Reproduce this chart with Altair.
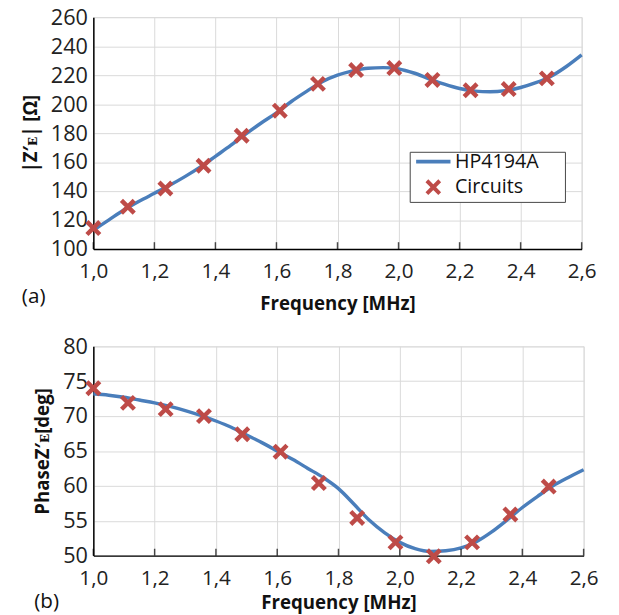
import altair as alt
import pandas as pd

FONT = "Open Sans"
BLUE = "#4a7ebb"
RED = "#be4b48"

# ---- data ----
series_names = ["HP4194A", "Circuits"]
x_ticks = [1.0, 1.2, 1.4, 1.6, 1.8, 2.0, 2.2, 2.4, 2.6]
z_ticks = [100, 120, 140, 160, 180, 200, 220, 240, 260]
ph_ticks = [50, 55, 60, 65, 70, 75, 80]

curve_freq = [1.00, 1.05, 1.10, 1.15, 1.20, 1.25, 1.30, 1.35, 1.40, 1.45, 1.50,
              1.55, 1.60, 1.65, 1.70, 1.75, 1.80, 1.85, 1.90, 1.95, 2.00, 2.05,
              2.10, 2.15, 2.20, 2.25, 2.30, 2.35, 2.40, 2.45, 2.50, 2.55, 2.60]
curve_z = [113.0, 120.0, 127.0, 133.0, 138.5, 144.0, 150.0, 156.5, 164.0, 171.5, 179.5,
           187.0, 194.0, 202.0, 209.0, 215.5, 220.0, 223.0, 224.8, 225.2, 224.3, 221.5,
           217.5, 213.8, 210.8, 209.0, 208.5, 209.3, 211.5, 214.8, 219.3, 226.0, 234.0]
curve_phase = [73.2, 73.0, 72.7, 72.3, 71.9, 71.4, 70.8, 70.1, 69.3, 68.4, 67.3,
               66.2, 65.0, 63.8, 62.5, 61.2, 59.6, 57.4, 55.1, 53.3, 51.9, 51.0,
               50.6, 50.7, 51.1, 52.0, 53.4, 55.1, 56.9, 58.5, 60.0, 61.2, 62.3]

pt_freq = [1.0, 1.113, 1.236, 1.361, 1.486, 1.611, 1.736, 1.861, 1.986, 2.111, 2.236, 2.361, 2.486]
pt_z = [114.5, 129.2, 141.8, 157.5, 178.2, 195.5, 214.0, 223.5, 224.9, 216.7, 209.6, 210.4, 217.8]
pt_phase = [74.0, 71.9, 71.0, 70.0, 67.4, 64.9, 60.4, 55.4, 51.9, 49.9, 51.9, 55.9, 59.9]

curve_df = pd.DataFrame({"f": curve_freq, "z": curve_z, "p": curve_phase, "s": series_names[0]})
pts_df = pd.DataFrame({"f": pt_freq, "z": pt_z, "p": pt_phase, "s": series_names[1]})
ticks_df = pd.DataFrame({"f": x_ticks})

SYM_SIZE = 225  # 15 px symbol box
LINE_PATH = "M-2.33,0L2.33,0"
X_PATH = "M-0.87,-0.87L0.87,0.87M0.87,-0.87L-0.87,0.87"

color_scale = alt.Scale(domain=series_names, range=[BLUE, RED])
shape_scale = alt.Scale(domain=series_names, range=[LINE_PATH, X_PATH])

LABEL_EXPR = "replace(format(datum.value, '.1f'), '.', ',')"
PAD_TAIL = "\u00a0" * 5 + "\u200b"


def panel(ycol, ydomain, yvals, ytitle, width, height, leg_x, leg_y, row_pad, leg_pad,
          x_label_pad, x_title_pad, tag, tag_dy):
    x_axis = alt.Axis(values=x_ticks, labelExpr=LABEL_EXPR, title="Frequency [MHz]",
                      grid=True, gridColor="#d9d9d9", ticks=False,
                      domainColor="black", domainWidth=1.5,
                      labelFont=FONT, labelFontSize=21, labelColor="#222",
                      labelPadding=x_label_pad, labelFlush=False, labelOverlap=False,
                      titleFont=FONT, titleFontSize=19, titleFontWeight="bold",
                      titleColor="#111", titlePadding=x_title_pad)
    y_axis = alt.Axis(values=yvals, title=ytitle, grid=True, gridColor="#d9d9d9",
                      ticks=False, domainColor="black", domainWidth=1.5,
                      labelFont=FONT, labelFontSize=22, labelColor="#222",
                      labelPadding=6, labelFlush=False, labelOverlap=False,
                      titleFont=FONT, titleFontSize=19, titleFontWeight="bold",
                      titleColor="#111", titlePadding=10)
    xscale = alt.Scale(domain=[1.0, 2.6], nice=False, zero=False)
    yscale = alt.Scale(domain=ydomain, nice=False, zero=False)
    xenc = alt.X("f:Q", scale=xscale, axis=x_axis)
    yenc = alt.Y(f"{ycol}:Q", scale=yscale, axis=y_axis)
    legend = alt.Legend(title=None, orient="none", legendX=leg_x, legendY=leg_y,
                        strokeColor="#444", fillColor="white", padding=leg_pad,
                        labelFont=FONT, labelFontSize=20, labelColor="#111",
                        labelOffset=12, symbolOffset=14, symbolSize=SYM_SIZE,
                        symbolStrokeWidth=4, symbolFillColor="transparent",
                        rowPadding=row_pad, labelExpr=f"datum.label + '{PAD_TAIL}'")
    line = alt.Chart(curve_df).mark_line(strokeWidth=3.5, interpolate="monotone").encode(
        x=xenc, y=yenc,
        color=alt.Color("s:N", scale=color_scale, legend=legend),
    )
    pts = alt.Chart(pts_df).mark_point(filled=False, size=SYM_SIZE, strokeWidth=4.5, opacity=1).encode(
        x=xenc, y=yenc,
        color=alt.Color("s:N", scale=color_scale, legend=legend),
        shape=alt.Shape("s:N", scale=shape_scale, legend=legend),
    )
    ticks = alt.Chart(ticks_df).mark_tick(orient="vertical", size=7, thickness=1.5,
                                           color="black", yOffset=-3.5).encode(
        x=xenc, y=alt.YDatum(ydomain[0], scale=yscale, axis=y_axis))
    return alt.layer(line, ticks, pts).properties(
        width=width, height=height,
        title=alt.TitleParams(tag, orient="bottom", anchor="start", frame="bounds",
                              font=FONT, fontSize=21, fontWeight="normal", color="#111",
                              offset=0, dy=tag_dy),
    )


top = panel("z", [100, 260], z_ticks, "|Z\u2032\u1d07| [\u03a9]", 497, 236,
            322, 137, 1, 0, 12, 13, "(a)", -27)
bottom = panel("p", [50, 80], ph_ticks, "PhaseZ\u2032\u1d07[deg]", 499, 213,
               302, 19, 9, 2, 12, 6, "(b)", -22)

chart = alt.vconcat(top, bottom, spacing=21).properties(
    padding={"left": 21, "top": 0, "right": 20, "bottom": 0}
).configure_view(stroke="black", strokeWidth=1.5).configure(background="white")

chart.save("out.html", embed_options={"renderer": "svg", "actions": False})
